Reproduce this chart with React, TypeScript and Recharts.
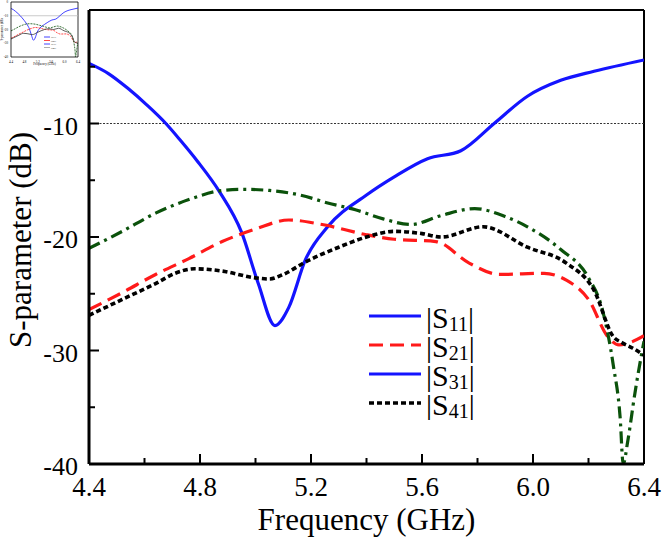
import { Legend, Line, LineChart, ReferenceLine, XAxis, YAxis } from 'recharts'

// |S11| reflection, blue solid
const freqS11 = [4.4, 4.47, 4.54, 4.61, 4.677, 4.73, 4.79, 4.87, 4.95, 5.01, 5.07, 5.12, 5.18, 5.26, 5.4, 5.5, 5.62, 5.74, 5.86, 5.98, 6.1, 6.22, 6.4]
const magS11 = [-4.7, -5.6, -6.9, -8.4, -10.0, -11.5, -13.3, -16.0, -19.6, -24.1, -27.8, -26.2, -22.0, -19.1, -16.3, -14.7, -13.1, -12.4, -10.0, -7.6, -6.2, -5.4, -4.4]

// |S21| red dashed
const freqS21 = [4.4, 4.52, 4.64, 4.76, 4.88, 5.0, 5.12, 5.24, 5.4, 5.5, 5.65, 5.77, 5.88, 6.04, 6.12, 6.2, 6.27, 6.31, 6.35, 6.4]
const magS21 = [-26.4, -24.9, -23.3, -21.9, -20.4, -19.3, -18.5, -18.9, -19.8, -20.2, -20.4, -22.3, -23.3, -23.2, -23.8, -25.5, -28.8, -29.5, -29.3, -28.7]

// |S31| green dash-dot, deep notch near 6.33 GHz
const freqS31 = [4.4, 4.52, 4.64, 4.76, 4.88, 4.96, 5.05, 5.16, 5.26, 5.36, 5.46, 5.56, 5.67, 5.79, 5.9, 5.98, 6.1, 6.2, 6.25, 6.29, 6.314, 6.325, 6.342, 6.367, 6.39, 6.4]
const magS31 = [-21.0, -19.5, -17.9, -16.7, -15.9, -15.8, -15.9, -16.3, -17.0, -17.6, -18.4, -18.9, -18.1, -17.5, -18.2, -19.1, -21.1, -23.6, -26.4, -31.4, -35.9, -40.0, -37.9, -33.8, -30.5, -29.2]

// |S41| black short dash
const freqS41 = [4.4, 4.52, 4.64, 4.71, 4.78, 4.88, 5.0, 5.05, 5.1, 5.18, 5.3, 5.4, 5.5, 5.6, 5.67, 5.82, 5.98, 6.12, 6.22, 6.29, 6.32, 6.36, 6.4]
const magS41 = [-26.9, -25.5, -24.1, -23.2, -22.8, -23.0, -23.6, -23.7, -23.3, -22.2, -20.9, -20.0, -19.5, -19.7, -20.0, -19.1, -20.9, -22.3, -24.7, -28.8, -29.3, -29.8, -30.4]

const xTicks = [4.4, 4.6, 4.8, 5.0, 5.2, 5.4, 5.6, 5.8, 6.0, 6.2, 6.4]
const xTickLabels = ['4.4', '', '4.8', '', '5.2', '', '5.6', '', '6.0', '', '6.4']
const yTicks = [-40, -35, -30, -25, -20, -15, -10, -5, 0]
const yTickLabels = ['-40', '', '-30', '', '-20', '', '-10', '', '']
const insetXLabels = ['4.4', '4.8', '5.2', '5.6', '6.0', '6.4']
const insetYLabels = ['-40', '-30', '-20', '-10', '0']

const legendNames = ['11', '21', '31', '41']
const refLevel = -10

const serif = '"Liberation Serif", "Times New Roman", serif'

const toPoints = (fs: number[], vs: number[]) => fs.map((f, i) => ({ f, v: vs[i] }))

const s11 = toPoints(freqS11, magS11)
const s21 = toPoints(freqS21, magS21)
const s31 = toPoints(freqS31, magS31)
const s41 = toPoints(freqS41, magS41)

const styles = [
  { stroke: '#1414ff', dash: undefined, width: 3.2 },
  { stroke: '#ff1a1a', dash: '14 7', width: 3.2 },
  { stroke: '#0b520b', dash: '12 5 3 5', width: 3.2 },
  { stroke: '#000000', dash: '5 3', width: 3.6 },
]
// legend shows S31 as a solid blue line
const legendStyles = [styles[0], styles[1], styles[0], styles[3]]

const findIdx = (arr: number[], v: number) => arr.findIndex((t) => Math.abs(t - v) < 1e-6)

function XTick({ x, y, payload }: any) {
  const label = xTickLabels[findIdx(xTicks, payload.value)]
  const len = label ? 10 : 6
  return (
    <g>
      <line x1={x} x2={x} y1={y} y2={y - len} stroke="#000" strokeWidth={2} />
      {label && (
        <text x={x} y={y + 32} textAnchor="middle" fontSize={27} fontFamily={serif} fill="#000">
          {label}
        </text>
      )}
    </g>
  )
}

function YTick({ x, y, payload }: any) {
  const label = yTickLabels[findIdx(yTicks, payload.value)]
  const len = label ? 10 : 6
  return (
    <g>
      <line x1={x} x2={x + len} y1={y} y2={y} stroke="#000" strokeWidth={2} />
      {label && (
        <text x={x - 11} y={y + 11} textAnchor="end" fontSize={26} fontFamily={serif} fill="#000">
          {label}
        </text>
      )}
    </g>
  )
}

function SLegend() {
  return (
    <svg width={130} height={120} style={{ display: 'block' }}>
      {legendNames.map((n, i) => {
        const st = legendStyles[i]
        const ly = 16 + i * 29
        return (
          <g key={n}>
            <line x1={9} x2={61} y1={ly} y2={ly} stroke={st.stroke} strokeWidth={st.width} strokeDasharray={st.dash} />
            <text x={66} y={ly + 12} fontSize={30} fontFamily={serif} fill="#000">
              |S<tspan fontSize={20} dy={3}>{n}</tspan>
              <tspan dy={-3}>|</tspan>
            </text>
          </g>
        )
      })}
    </svg>
  )
}

// small thumbnail of the same plot in the top-left corner
function Inset() {
  const tiny = 3.2
  return (
    <div style={{ position: 'absolute', left: 0, top: 0, width: 84, height: 66 }}>
      <LineChart width={84} height={66} margin={{ top: 2, right: 6, bottom: 0, left: 0 }}>
        <XAxis
          dataKey="f"
          type="number"
          domain={[4.4, 6.4]}
          ticks={[4.4, 4.8, 5.2, 5.6, 6.0, 6.4]}
          interval={0}
          allowDataOverflow
          height={9}
          axisLine={{ stroke: '#000', strokeWidth: 0.8 }}
          tickLine={false}
          tickSize={0}
          tick={({ x, y, index }: any) => (
            <text x={x} y={y + 4} textAnchor="middle" fontSize={tiny} fontFamily={serif} fill="#000">
              {insetXLabels[index]}
            </text>
          )}
          label={({ viewBox }: any) => (
            <text x={viewBox.x + viewBox.width / 2} y={viewBox.y + 8} textAnchor="middle" fontSize={tiny} fontFamily={serif} fill="#000">
              Frequency (GHz)
            </text>
          )}
        />
        <YAxis
          type="number"
          domain={[-40, 0]}
          ticks={[-40, -30, -20, -10, 0]}
          interval={0}
          allowDataOverflow
          width={11}
          axisLine={{ stroke: '#000', strokeWidth: 0.8 }}
          tickLine={false}
          tickSize={0}
          tick={({ x, y, index }: any) => (
            <text x={x - 1} y={y + 1} textAnchor="end" fontSize={tiny} fontFamily={serif} fill="#000">
              {insetYLabels[index]}
            </text>
          )}
          label={({ viewBox }: any) => (
            <text
              transform={`translate(${viewBox.x + 3}, ${viewBox.y + viewBox.height / 2}) rotate(-90)`}
              textAnchor="middle"
              fontSize={tiny}
              fontFamily={serif}
              fill="#000"
            >
              S-parameter (dB)
            </text>
          )}
        />
        <ReferenceLine y={0} stroke="#000" strokeWidth={0.8} />
        <ReferenceLine x={6.4} stroke="#000" strokeWidth={0.8} />
        <ReferenceLine y={refLevel} stroke="#bdbdbd" strokeWidth={0.8} />
        {[s11, s21, s31, s41].map((d, i) => (
          <Line
            key={i}
            data={d}
            dataKey="v"
            type="monotone"
            dot={false}
            stroke={i === 3 ? '#333' : styles[i].stroke}
            strokeWidth={0.8}
            strokeDasharray={i === 1 || i === 2 ? '2 1' : undefined}
            isAnimationActive={false}
          />
        ))}
        <Legend
          layout="vertical"
          align="center"
          verticalAlign="middle"
          wrapperStyle={{ left: 44, top: 35, width: 16 }}
          content={() => (
            <svg width={16} height={16} style={{ display: 'block' }}>
              {legendNames.map((n, i) => (
                <g key={n}>
                  <line x1={0} x2={6} y1={2 + i * 3.5} y2={2 + i * 3.5} stroke={i === 3 ? '#999' : legendStyles[i].stroke} strokeWidth={0.8} />
                  <text x={7} y={3 + i * 3.5} fontSize={2.6} fontFamily={serif} fill="#000">
                    |S{n}|
                  </text>
                </g>
              ))}
            </svg>
          )}
        />
      </LineChart>
    </div>
  )
}

export default function App() {
  return (
    <div style={{ position: 'absolute', left: 0, top: 0, width: 665, height: 539, background: '#fff' }}>
      <LineChart width={665} height={539} margin={{ top: 10, right: 21, bottom: 15, left: 0 }}>
        <XAxis
          dataKey="f"
          type="number"
          domain={[4.4, 6.4]}
          ticks={xTicks}
          interval={0}
          allowDataOverflow
          height={60}
          axisLine={{ stroke: '#000', strokeWidth: 3 }}
          tickLine={false}
          tickSize={0}
          tickMargin={0}
          tick={XTick}
          label={({ viewBox }: any) => (
            <text x={viewBox.x + viewBox.width / 2} y={viewBox.y + 66} textAnchor="middle" fontSize={31} fontFamily={serif} fill="#000">
              Frequency (GHz)
            </text>
          )}
        />
        <YAxis
          type="number"
          domain={[-40, 0]}
          ticks={yTicks}
          interval={0}
          allowDataOverflow
          width={89}
          axisLine={{ stroke: '#000', strokeWidth: 3 }}
          tickLine={false}
          tickSize={0}
          tickMargin={0}
          tick={YTick}
          label={({ viewBox }: any) => (
            <text
              transform={`translate(${viewBox.x + 31}, ${viewBox.y + 230}) rotate(-90)`}
              textAnchor="middle"
              fontSize={31}
              fontFamily={serif}
              fill="#000"
            >
              S-parameter (dB)
            </text>
          )}
        />
        {/* top and right frame */}
        <ReferenceLine y={0} stroke="#000" strokeWidth={2} />
        <ReferenceLine x={6.4} stroke="#000" strokeWidth={2} />
        <ReferenceLine y={refLevel} stroke="#333" strokeWidth={1} strokeDasharray="2 1.5" />
        {[s11, s21, s31, s41].map((d, i) => (
          <Line
            key={i}
            data={d}
            dataKey="v"
            type="monotone"
            dot={false}
            stroke={styles[i].stroke}
            strokeWidth={styles[i].width}
            strokeDasharray={styles[i].dash}
            isAnimationActive={false}
          />
        ))}
        <Legend layout="vertical" align="center" verticalAlign="middle" wrapperStyle={{ left: 360, top: 300, width: 130 }} content={SLegend} />
      </LineChart>
      <Inset />
    </div>
  )
}
